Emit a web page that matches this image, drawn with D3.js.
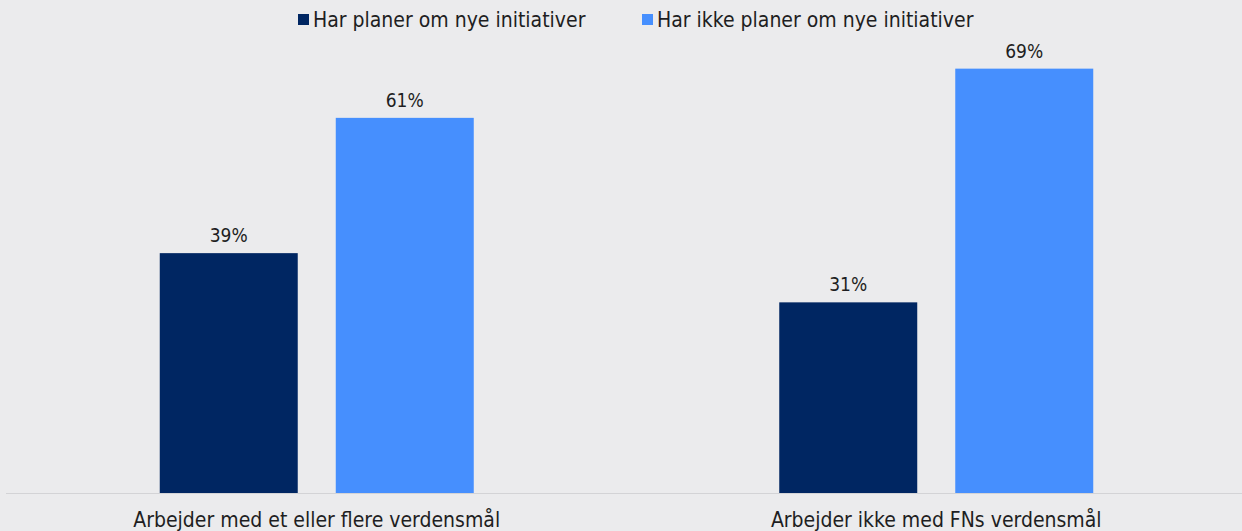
<!DOCTYPE html>
<html>
<head>
<meta charset="utf-8">
<script src="https://cdn.jsdelivr.net/npm/d3@7"></script>
<style>
  html, body { margin: 0; padding: 0; background: #ebebed; }
  svg text { font-family: "DejaVu Sans Condensed", "DejaVu Sans", sans-serif; fill: #1e1e22; }
</style>
</head>
<body>
<div id="chart"></div>
<script>
// data
const categories = ['Arbejder med et eller flere verdensmål', 'Arbejder ikke med FNs verdensmål'];
const seriesNames = ['Har planer om nye initiativer', 'Har ikke planer om nye initiativer'];
const seriesColors = ['#002662', '#468ffe'];
const planer = [39, 31];
const ikkePlaner = [61, 69];

const width = 1242, height = 531;
const baseY = 493;

const svg = d3.select('#chart')
  .append('svg')
  .attr('width', width)
  .attr('height', height);

const x0 = d3.scaleBand()
  .domain(categories)
  .range([7, 1246])
  .paddingInner(0)
  .paddingOuter(0);

const x1 = d3.scaleBand()
  .domain(seriesNames)
  .range([x0.bandwidth() / 2 - 157, x0.bandwidth() / 2 + 157])
  .paddingInner(0.216);

const y = d3.scaleLinear()
  .domain([0, 70])
  .range([baseY, baseY - 70 * 6.15]);

const rows = categories.map((c, i) => ({
  category: c,
  values: [
    { key: seriesNames[0], value: planer[i] },
    { key: seriesNames[1], value: ikkePlaner[i] }
  ]
}));

// baseline
svg.append('line')
  .attr('x1', 6)
  .attr('x2', width)
  .attr('y1', baseY + 0.5)
  .attr('y2', baseY + 0.5)
  .attr('stroke', '#d3d3d6')
  .attr('stroke-width', 1);

const groups = svg.selectAll('.group')
  .data(rows)
  .enter()
  .append('g')
  .attr('class', 'group')
  .attr('transform', d => `translate(${x0(d.category)}, 0)`);

groups.selectAll('rect')
  .data(d => d.values)
  .enter()
  .append('rect')
  .attr('x', d => x1(d.key))
  .attr('y', d => y(d.value))
  .attr('width', x1.bandwidth())
  .attr('height', d => baseY - y(d.value))
  .attr('fill', (d, i) => seriesColors[i]);

groups.selectAll('.val')
  .data(d => d.values)
  .enter()
  .append('text')
  .attr('class', 'val')
  .attr('x', d => x1(d.key) + x1.bandwidth() / 2)
  .attr('y', d => y(d.value) - 11)
  .attr('text-anchor', 'middle')
  .attr('font-size', 19)
  .text(d => d.value + '%');

// category labels
svg.append('g')
  .selectAll('text')
  .data(categories)
  .enter()
  .append('text')
  .attr('x', d => x0(d) + x0.bandwidth() / 2)
  .attr('y', 527)
  .attr('text-anchor', 'middle')
  .attr('font-size', 21)
  .text(d => d);

// legend
const legendX = [298, 642];
const legend = svg.append('g');
seriesNames.forEach((name, i) => {
  legend.append('rect')
    .attr('x', legendX[i])
    .attr('y', 14)
    .attr('width', 11)
    .attr('height', 11)
    .attr('fill', seriesColors[i]);
  legend.append('text')
    .attr('x', legendX[i] + 15)
    .attr('y', 27)
    .attr('font-size', 21)
    .text(name);
});
</script>
</body>
</html>
